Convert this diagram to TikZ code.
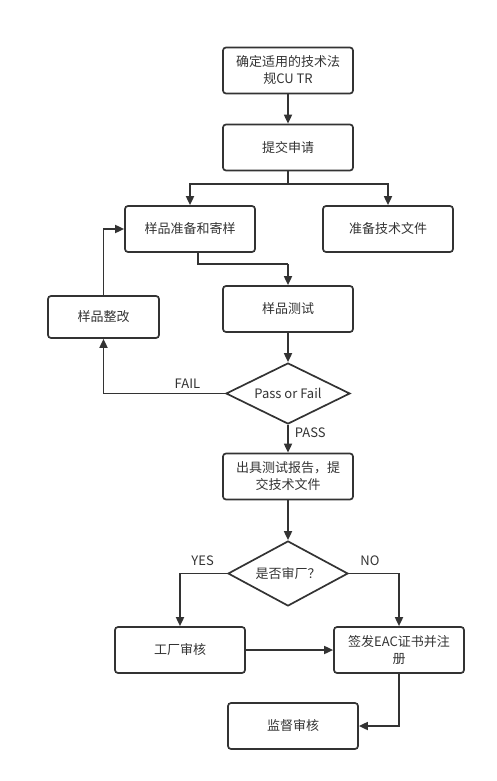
\documentclass[tikz,border=0pt]{standalone}
\usepackage{fontspec}
\setmainfont{Noto Sans CJK SC}
\usetikzlibrary{arrows.meta,shapes.geometric}
\definecolor{ink}{HTML}{333333}
\begin{document}
\begin{tikzpicture}[x=1pt,y=-1pt,>={Triangle[length=9pt,width=8pt]},
  color=ink,line width=1.7pt,
  every node/.style={font=\fontsize{13}{17}\selectfont,text=ink},
  stepbox/.style={draw,rounded corners=3pt,minimum width=130pt,minimum height=46pt,align=center,inner sep=2pt},
  choice/.style={draw,diamond,aspect=2,inner sep=0pt},
  tag/.style={inner sep=1pt}]
\useasboundingbox (0,0) rectangle (496,781);
\node[stepbox] (rule) at (288,70.5) {确定适用的技术法\\规CU TR};
\node[stepbox] (apply) at (288,147.5) {提交申请};
\node[stepbox] (prep) at (190,229) {样品准备和寄样};
\node[stepbox] (docs) at (388,229) {准备技术文件};
\node[stepbox] (test) at (288,309) {样品测试};
\node[stepbox,minimum width=111pt,minimum height=42pt] (fix) at (103.5,317) {样品整改};
\node[choice,minimum width=124pt,minimum height=61pt] (check) at (288,393.5) {Pass or Fail};
\node[stepbox] (report) at (288,476.5) {出具测试报告，提\\交技术文件};
\node[choice,minimum width=120pt,minimum height=65pt] (audit) at (288,573.5) {是否审厂？};
\node[stepbox] (factory) at (180,650) {工厂审核};
\node[stepbox] (cert) at (399,650) {签发EAC证书并注\\册};
\node[stepbox] (super) at (293,726) {监督审核};
\coordinate (split) at (288,184);
\coordinate (turn) at (288,264);
\draw[->] (rule) -- (apply);
\draw (apply) -- (split);
\draw[->] (split) -| (prep);
\draw[->] (split) -| (docs);
\draw ([xshift=8pt]prep.south) |- (turn);
\draw[->] (turn) -- (test);
\draw[->] (test) -- (check);
\draw[->] (check) -| node[tag,pos=0.155,above=3pt] {FAIL} (fix);
\draw[->] (fix) |- (prep);
\draw[->] (check) -- node[tag,pos=0.3,right=5pt] {PASS} (report);
\draw[->] (report) -- (audit);
\draw[->] (audit) -| node[tag,pos=0.26,above=6pt] {YES} (factory);
\draw[->] (audit) -| node[tag,pos=0.21,above=6pt] {NO} (cert);
\draw[->] (factory) -- (cert);
\draw[->] (cert) |- (super);
\end{tikzpicture}
\end{document}
